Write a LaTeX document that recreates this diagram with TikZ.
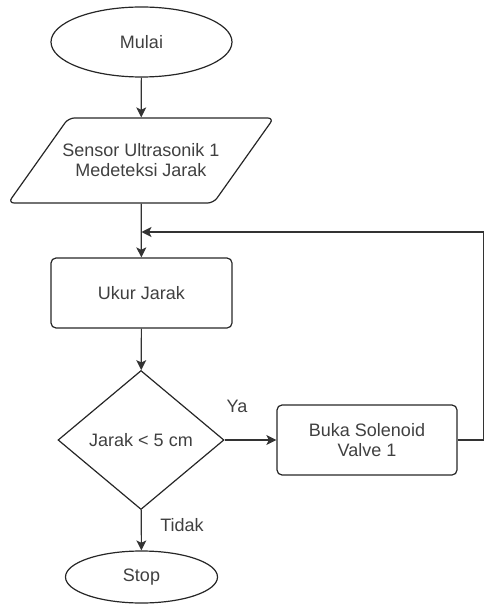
\documentclass[tikz,border=0pt]{standalone}
\usepackage{fontspec}
\setmainfont{Liberation Sans}
\usetikzlibrary{shapes.geometric}
\usetikzlibrary{arrows.meta}
\tikzset{%
    blok/.style={draw=black!85,line width=0.6pt,align=center,inner sep=1pt,
        text=black!75,font=\fontsize{9}{10}\selectfont}
}

\begin{document}
\begin{tikzpicture}[x=0.5pt,y=-0.5pt,
            edge/.style={draw=black!80,line width=0.6pt,-{Stealth[length=5pt,width=5pt,inset=1.2pt]}},
            lbl/.style={text=black!75,font=\fontsize{9}{10}\selectfont}
            ]
            \useasboundingbox (0,0) rectangle (483,604);

            \node[blok,ellipse,minimum width=90.5pt,minimum height=35pt] (mulai) at (141.5,42){Mulai};
            \node[blok,trapezium,trapezium stretches=true,trapezium left angle=31.7,trapezium right angle=148.3,
                  rounded corners=3pt,inner xsep=-3pt,minimum width=128pt,minimum height=42.5pt] (sensor) at (141,160.5){Sensor Ultrasonik 1\\Medeteksi Jarak};
            \node[blok,rectangle,rounded corners=2.5pt,minimum width=90.5pt,minimum height=35pt] (ukur) at (141.5,293){Ukur Jarak};
            \node[blok,diamond,minimum width=83pt,minimum height=69.5pt] (cek) at (141,440){Jarak < 5 cm};
            \node[blok,rectangle,rounded corners=2.5pt,minimum width=90pt,minimum height=35pt] (buka) at (367,440){Buka Solenoid\\Valve 1};
            \node[blok,ellipse,minimum width=76pt,minimum height=26pt] (stop) at (141.5,577){Stop};

            \coordinate (kanan) at (483.8,440);
            \coordinate (atas) at (483.8,232);
            \coordinate (balik) at (141.5,232);

            \draw[edge] (mulai) -- (sensor);
            \draw[edge] (sensor) -- (ukur);
            \draw[edge] (ukur) -- (cek);
            \draw[edge] (cek) -- (buka);
            \draw[edge] (cek) -- (stop);
            \draw[edge] (buka) -- (kanan) -- (atas) -- (balik);

            \node[lbl] (ya) at (237,406){Ya};
            \node[lbl] (tidak) at (182,525){Tidak};
        \end{tikzpicture}
\end{document}
